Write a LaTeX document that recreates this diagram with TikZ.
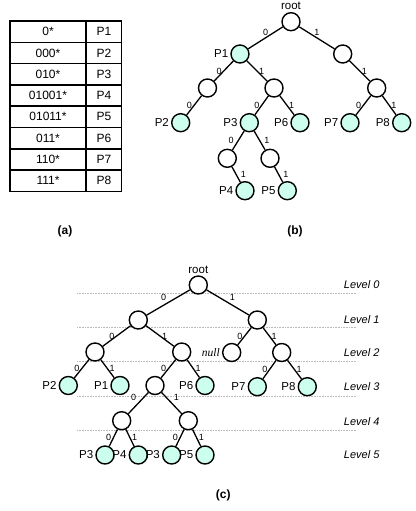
\documentclass[tikz,border=0pt]{standalone}
\usepackage{fontspec}
\setmainfont{Liberation Sans}
\newfontfamily\tmsfont{Liberation Serif}
\usetikzlibrary{positioning}
\definecolor{leaffill}{HTML}{CCFFEE}

\begin{document}
\begin{tikzpicture}[x=1pt, y=-1pt, font=\fontsize{11.5}{13}\selectfont, line width=1.3pt,
		vx/.style={circle, draw, line width=1.4pt, minimum size=18pt, inner sep=0pt, fill=white},
		pv/.style={vx, fill=leaffill},
		tag/.style={inner sep=0.5pt},
		bit/.style={midway, font=\fontsize{9}{10}\selectfont, inner sep=1.5pt},
		lvl/.style={anchor=west, font=\fontsize{11}{13}\selectfont\itshape},
		capt/.style={font=\fontsize{12}{14}\selectfont\bfseries}]
		\useasboundingbox (0,0) rectangle (415,511);
		% table (a)
		\begin{scope}[line width=1.5pt, font=\fontsize{12}{14}\selectfont]
			\foreach \k/\p [count=\i] in {0*/P1, 000*/P2, 010*/P3, 01001*/P4, 01011*/P5, 011*/P6, 110*/P7, 111*/P8} {
				\node (key\i) at (48,{21+21.3*(\i-0.5)}) {\k};
				\node (pfx\i) at (104,{21+21.3*(\i-0.5)}) {\p};
			}
			\draw (10,21) rectangle (121.7,191.5);
			\draw (86,21) -- (86,191.5);
			\foreach \i in {1,...,7} \draw (10,{21+21.3*\i}) -- (121.7,{21+21.3*\i});
			\node[capt] (capa) at (65,231) {(a)};
		\end{scope}
		% trie (b)
		\begin{scope}
			\node[vx] (broot) at (291,21.7) {};
			\node[tag, above=1pt of broot] (brootT) {root};
			\node[pv] (b0) at (240,54) {};
			\node[tag, left=1pt of b0] (b0T) {P1};
			\node[vx] (b1) at (342.7,54) {};
			\node[vx] (b00) at (207.5,88) {};
			\node[vx] (b01) at (274,88) {};
			\node[vx] (b11) at (376.7,88) {};
			\node[pv] (b000) at (180.7,122.7) {};
			\node[tag, left=1pt of b000] (b000T) {P2};
			\node[pv] (b010) at (249.3,122.7) {};
			\node[tag, left=1pt of b010] (b010T) {P3};
			\node[pv] (b011) at (300,122.7) {};
			\node[tag, left=1pt of b011] (b011T) {P6};
			\node[pv] (b110) at (350,122.7) {};
			\node[tag, left=1pt of b110] (b110T) {P7};
			\node[pv] (b111) at (401.7,122.7) {};
			\node[tag, left=1pt of b111] (b111T) {P8};
			\node[vx] (b0100) at (227.3,158.3) {};
			\node[vx] (b0101) at (270,158.3) {};
			\node[pv] (b01001) at (245,190.7) {};
			\node[tag, left=1pt of b01001] (b01001T) {P4};
			\node[pv] (b01011) at (287.3,190.7) {};
			\node[tag, left=1pt of b01011] (b01011T) {P5};
			\draw (broot) -- node[bit, above] {0} (b0);
			\draw (broot) -- node[bit, above] {1} (b1);
			\draw (b0) -- node[bit, left] {0} (b00);
			\draw (b0) -- node[bit, right] {1} (b01);
			\draw (b1) -- node[bit, right] {1} (b11);
			\draw (b00) -- node[bit, left] {0} (b000);
			\draw (b01) -- node[bit, left] {0} (b010);
			\draw (b01) -- node[bit, right] {1} (b011);
			\draw (b11) -- node[bit, left] {0} (b110);
			\draw (b11) -- node[bit, right] {1} (b111);
			\draw (b010) -- node[bit, left=2.5pt] {0} (b0100);
			\draw (b010) -- node[bit, right=2.5pt] {1} (b0101);
			\draw (b0100) -- node[bit, right=2.5pt] {1} (b01001);
			\draw (b0101) -- node[bit, right=2.5pt] {1} (b01011);
			\node[capt] (capb) at (295,231) {(b)};
		\end{scope}
		% trie (c)
		\begin{scope}
			\foreach \y in {293.5,327.5,361.5,396,430}
				\draw[gray!55, line width=0.6pt, dash pattern=on 0.8pt off 0.8pt] (77,\y) -- (357,\y);
			\foreach \l/\y in {0/285, 1/320, 2/352.5, 3/387, 4/421.5, 5/455}
				\node[lvl] (lev\l) at (340,\y) {Level \l};
			\node[vx] (croot) at (198.3,285) {};
			\node[tag, above=1pt of croot] (crootT) {root};
			\node[vx] (c0) at (138.3,320) {};
			\node[vx] (c1) at (257.3,320) {};
			\node[vx] (c00) at (95,352) {};
			\node[vx] (c01) at (181.7,352) {};
			\node[vx] (c10) at (231.7,352.5) {};
			\node[tag, left=1pt of c10, font=\fontsize{11.5}{13}\selectfont\tmsfont\itshape] (c10T) {null};
			\node[vx] (c11) at (281.7,352.5) {};
			\node[pv] (c000) at (68.3,385.5) {};
			\node[tag, left=1pt of c000] (c000T) {P2};
			\node[pv] (c001) at (120,385.5) {};
			\node[tag, left=1pt of c001] (c001T) {P1};
			\node[vx] (c010) at (155,385.5) {};
			\node[pv] (c011) at (205,385.5) {};
			\node[tag, left=1pt of c011] (c011T) {P6};
			\node[pv] (c110) at (257.3,386.7) {};
			\node[tag, left=1pt of c110] (c110T) {P7};
			\node[pv] (c111) at (307.3,386.7) {};
			\node[tag, left=1pt of c111] (c111T) {P8};
			\node[vx] (c0100) at (121.7,420.7) {};
			\node[vx] (c0101) at (188.3,420.7) {};
			\node[pv] (c01000) at (105,455) {};
			\node[tag, left=1pt of c01000] (c01000T) {P3};
			\node[pv] (c01001) at (138.3,455) {};
			\node[tag, left=1pt of c01001] (c01001T) {P4};
			\node[pv] (c01010) at (171.7,455) {};
			\node[tag, left=1pt of c01010] (c01010T) {P3};
			\node[pv] (c01011) at (205,455) {};
			\node[tag, left=1pt of c01011] (c01011T) {P5};
			\draw (croot) -- node[bit, above left] {0} (c0);
			\draw (croot) -- node[bit, above right] {1} (c1);
			\draw (c0) -- node[bit, left] {0} (c00);
			\draw (c0) -- node[bit, right] {1} (c01);
			\draw (c1) -- node[bit, left] {0} (c10);
			\draw (c1) -- node[bit, right] {1} (c11);
			\draw (c00) -- node[bit, left] {0} (c000);
			\draw (c00) -- node[bit, right] {1} (c001);
			\draw (c01) -- node[bit, left] {0} (c010);
			\draw (c01) -- node[bit, right] {1} (c011);
			\draw (c11) -- node[bit, left] {0} (c110);
			\draw (c11) -- node[bit, right] {1} (c111);
			\draw (c010) -- node[bit, above left] {0} (c0100);
			\draw (c010) -- node[bit, above right] {1} (c0101);
			\draw (c0100) -- node[bit, left] {0} (c01000);
			\draw (c0100) -- node[bit, right] {1} (c01001);
			\draw (c0101) -- node[bit, left] {0} (c01010);
			\draw (c0101) -- node[bit, right] {1} (c01011);
			\node[capt] (capc) at (223.3,495) {(c)};
		\end{scope}
	\end{tikzpicture}
\end{document}
